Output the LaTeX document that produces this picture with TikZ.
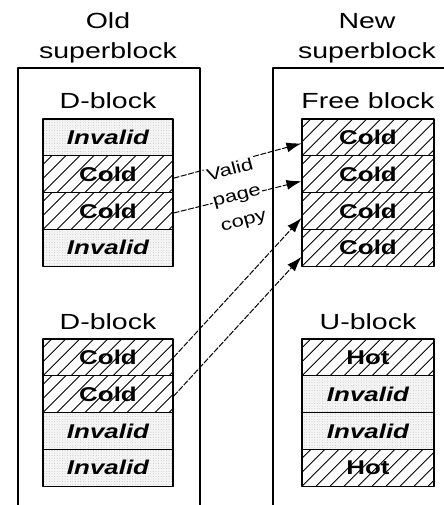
\documentclass[tikz,border=0pt]{standalone}
\usepackage{fontspec}
\setmainfont{Liberation Sans}[FakeStretch=1.3]
\usetikzlibrary{arrows.meta,patterns.meta}
\tikzset{
  sbox/.style={draw=black,line width=1.3bp},
  heading/.style={font=\fontsize{22}{30}\selectfont,inner sep=0pt},
  pagerow/.style={draw=black,line width=1.1bp,rectangle,minimum width=130bp,minimum height=36.8bp,inner sep=0pt},
  invalidrow/.style={pagerow,preaction={fill=black!4},pattern={Dots[distance=2.6bp,radius=0.4bp]},pattern color=black!30,
    font=\fontsize{20}{24}\selectfont\bfseries\itshape},
  validrow/.style={pagerow,font=\fontsize{20}{24}\selectfont\bfseries,
    path picture={\foreach \k in {-3,...,10}
      \draw [line width=0.9bp] ([xshift=\k*14bp]path picture bounding box.south west) -- ++(45bp,45bp);}},
  copyarrow/.style={->,line width=1bp,dash pattern=on 6bp off 1.5bp},
}
\begin{document}
\begin{tikzpicture}[>={Latex[length=15bp,width=10bp]},line join=bevel,]
    \useasboundingbox (0bp,0bp) rectangle (444bp,-505bp);
    %% superblocks
    \draw [sbox] (18bp,-505bp) |- (200bp,-68bp) -- (200bp,-505bp);
    \draw [sbox] (273bp,-505bp) |- (444bp,-68bp);
    \node (oldsb) at (108bp,-38bp) [heading,align=center] {Old\\superblock};
    \node (newsb) at (367bp,-38bp) [heading,align=center] {New\\superblock};
    %% block labels
    \node (dblka) at (108bp,-108bp) [heading,anchor=base] {D-block};
    \node (dblkb) at (108bp,-329bp) [heading,anchor=base] {D-block};
    \node (freeblk) at (368bp,-108bp) [heading,anchor=base] {Free block};
    \node (ublk) at (368bp,-329bp) [heading,anchor=base] {U-block};
    %% old superblock pages
    \node (oa1) at (108bp,-137.4bp) [invalidrow] {Invalid};
    \node (oa2) at (108bp,-174.2bp) [validrow] {Cold};
    \node (oa3) at (108bp,-211.0bp) [validrow] {Cold};
    \node (oa4) at (108bp,-247.8bp) [invalidrow] {Invalid};
    \node (ob1) at (108bp,-357.4bp) [validrow] {Cold};
    \node (ob2) at (108bp,-394.2bp) [validrow] {Cold};
    \node (ob3) at (108bp,-431.0bp) [invalidrow] {Invalid};
    \node (ob4) at (108bp,-467.8bp) [invalidrow] {Invalid};
    %% new superblock pages
    \node (nf1) at (368bp,-137.4bp) [validrow,minimum width=132bp] {Cold};
    \node (nf2) at (368bp,-174.2bp) [validrow,minimum width=132bp] {Cold};
    \node (nf3) at (368bp,-211.0bp) [validrow,minimum width=132bp] {Cold};
    \node (nf4) at (368bp,-247.8bp) [validrow,minimum width=132bp] {Cold};
    \node (nu1) at (368bp,-357.4bp) [validrow,minimum width=132bp] {Hot};
    \node (nu2) at (368bp,-394.2bp) [invalidrow,minimum width=132bp] {Invalid};
    \node (nu3) at (368bp,-431.0bp) [invalidrow,minimum width=132bp] {Invalid};
    \node (nu4) at (368bp,-467.8bp) [validrow,minimum width=132bp] {Hot};
    %% copies
    \draw [copyarrow] ([yshift=-4bp]oa2.east) -- ([yshift=-6bp]nf1.west);
    \draw [copyarrow] ([yshift=-2bp]oa3.east) -- ([yshift=-7bp]nf2.west);
    \draw [copyarrow] (ob1.east) -- ([yshift=-7bp]nf3.west);
    \draw [copyarrow] ([yshift=-2bp]ob2.east) -- ([yshift=-9bp]nf4.west);
    \node (copytxt) at (237bp,-196bp) [rotate=15,fill=white,inner sep=1bp,align=center,
      font=\fontsize{17}{26}\selectfont] {Valid\\page\\copy};
    %
\end{tikzpicture}
\end{document}
